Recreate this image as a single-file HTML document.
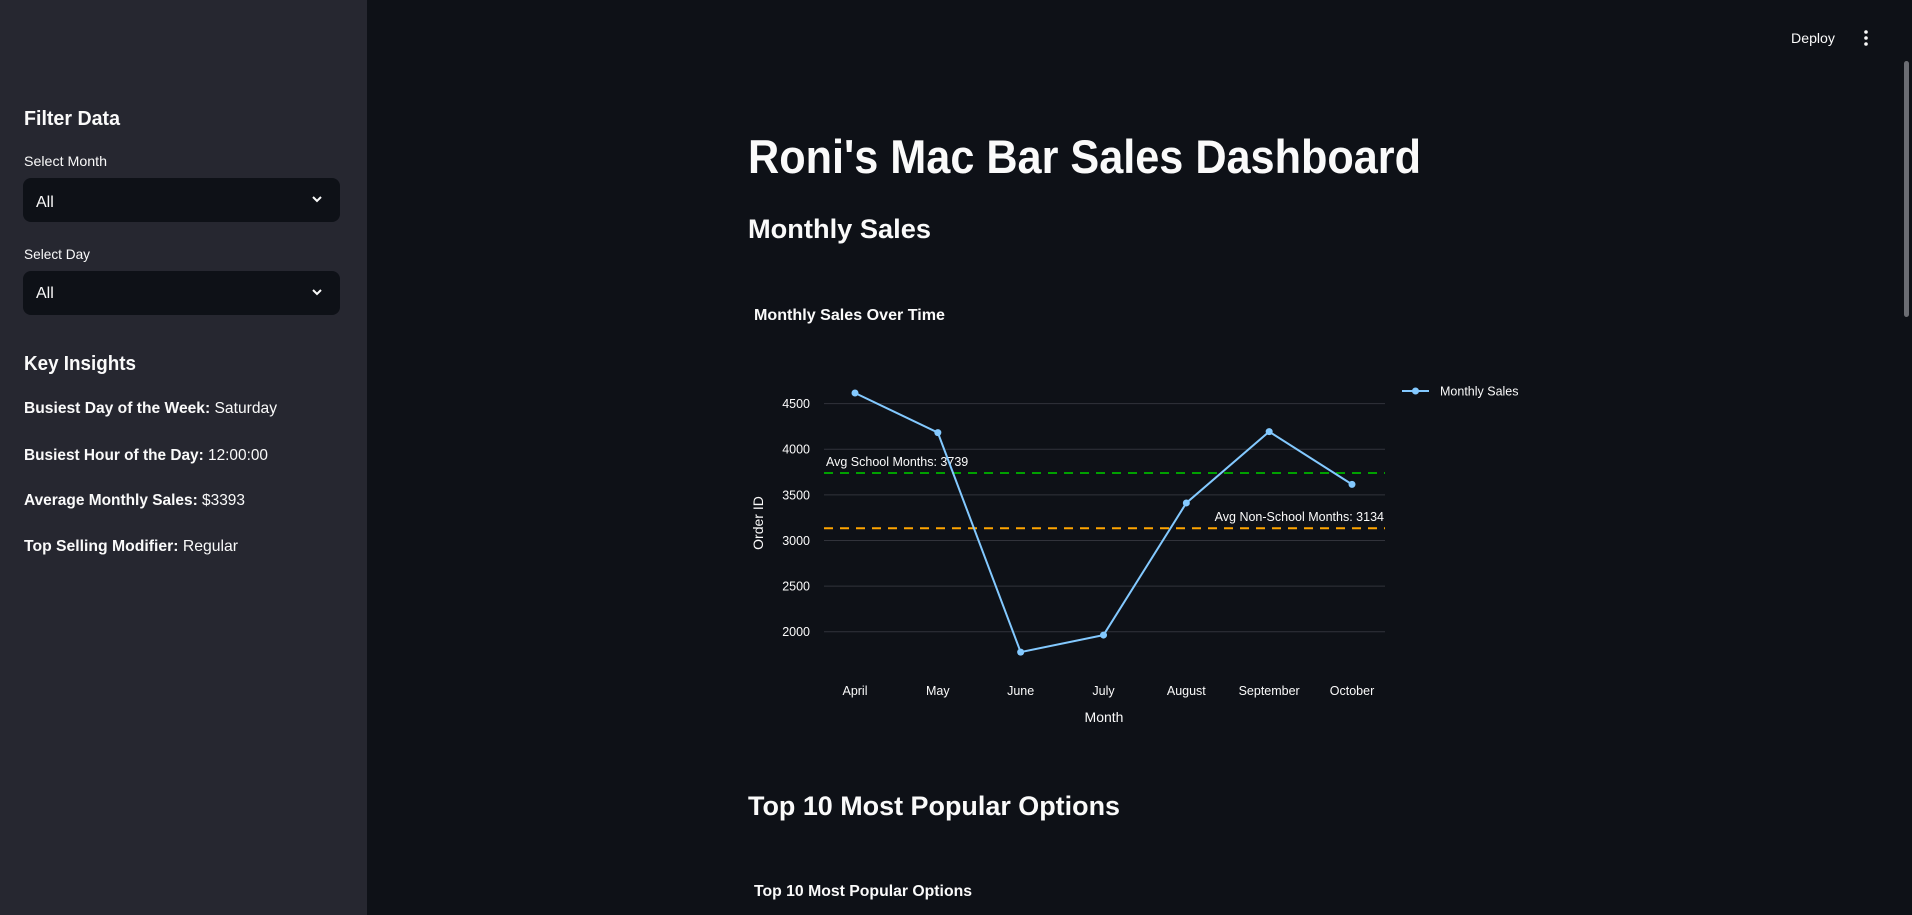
<!DOCTYPE html>
<html><head><meta charset="utf-8"><style>
html,body{margin:0;padding:0;background:#0e1117;width:1912px;height:915px;overflow:hidden;font-family:"Liberation Sans",sans-serif}
svg{display:block}
text{font-family:"Liberation Sans",sans-serif}
</style></head><body>
<svg width="1912" height="915" viewBox="0 0 1912 915">
<rect x="0" y="0" width="1912" height="915" fill="#0e1117"/>
<g>
<rect x="0" y="0" width="367" height="915" fill="#262730"/>
<text x="24" y="125" font-size="20" font-weight="bold" fill="#fafafa" textLength="96" lengthAdjust="spacingAndGlyphs">Filter Data</text>
<text x="24" y="166" font-size="14" fill="#fafafa" textLength="83" lengthAdjust="spacingAndGlyphs">Select Month</text>
<g>
<rect x="23" y="178" width="317" height="44" rx="8" fill="#0e1117"/>
<text x="36" y="207" font-size="16" fill="#fafafa">All</text>
<path d="M313 197 l4 4 l4 -4" stroke="#fafafa" stroke-width="2" fill="none"/>
</g>
<text x="24" y="259" font-size="14" fill="#fafafa" textLength="66" lengthAdjust="spacingAndGlyphs">Select Day</text>
<g>
<rect x="23" y="271" width="317" height="44" rx="8" fill="#0e1117"/>
<text x="36" y="298" font-size="16" fill="#fafafa">All</text>
<path d="M313 290 l4 4 l4 -4" stroke="#fafafa" stroke-width="2" fill="none"/>
</g>
<text x="24" y="370" font-size="20" font-weight="bold" fill="#fafafa" textLength="112" lengthAdjust="spacingAndGlyphs">Key Insights</text>
<text x="24" y="413" font-size="16" fill="#fafafa" textLength="253" lengthAdjust="spacingAndGlyphs"><tspan font-weight="bold">Busiest Day of the Week:</tspan> Saturday</text>
<text x="24" y="460" font-size="16" fill="#fafafa" textLength="244" lengthAdjust="spacingAndGlyphs"><tspan font-weight="bold">Busiest Hour of the Day:</tspan> 12:00:00</text>
<text x="24" y="505" font-size="16" fill="#fafafa" textLength="221" lengthAdjust="spacingAndGlyphs"><tspan font-weight="bold">Average Monthly Sales:</tspan> $3393</text>
<text x="24" y="551" font-size="16" fill="#fafafa" textLength="214" lengthAdjust="spacingAndGlyphs"><tspan font-weight="bold">Top Selling Modifier:</tspan> Regular</text>
</g>
<text x="1791" y="43" font-size="14" fill="#fafafa" textLength="44" lengthAdjust="spacingAndGlyphs">Deploy</text>
<g fill="#fafafa">
<circle cx="1866" cy="32" r="1.8"/><circle cx="1866" cy="38" r="1.8"/><circle cx="1866" cy="44" r="1.8"/>
</g>
<rect x="1904" y="61" width="5" height="256" rx="2.5" fill="#6b6d73"/>
<text x="748" y="173" font-size="47" font-weight="bold" fill="#fafafa" textLength="673" lengthAdjust="spacingAndGlyphs">Roni's Mac Bar Sales Dashboard</text>
<text x="748" y="238" font-size="27" font-weight="bold" fill="#fafafa" textLength="183" lengthAdjust="spacingAndGlyphs">Monthly Sales</text>
<text x="754" y="320" font-size="16" font-weight="bold" fill="#fafafa" textLength="191" lengthAdjust="spacingAndGlyphs">Monthly Sales Over Time</text>
<g id="chart"></g>
<text x="748" y="815" font-size="27" font-weight="bold" fill="#fafafa" textLength="372" lengthAdjust="spacingAndGlyphs">Top 10 Most Popular Options</text>
<text x="754" y="896" font-size="16" font-weight="bold" fill="#fafafa" textLength="218" lengthAdjust="spacingAndGlyphs">Top 10 Most Popular Options</text>
</svg>
<script>
const months = ["April","May","June","July","August","September","October"];
const sales = [4616,4182,1776,1963,3411,4193,3615];
const yTicks = [2000,2500,3000,3500,4000,4500];
const schoolAvg = 3739;
const nonSchoolAvg = 3134;
const NS="http://www.w3.org/2000/svg";
const g=document.getElementById('chart');
const X0=824,X1=1385;
function xs(i){return 855+i*(1352-855)/(months.length-1);}
function ys(v){return 403.6-(v-4500)*(228.1/2500);}
function mk(t,a,txt){const e=document.createElementNS(NS,t);for(const k in a)e.setAttribute(k,a[k]);if(txt!==undefined)e.textContent=txt;g.appendChild(e);return e;}
yTicks.forEach(v=>{
  const l=mk('line',{x1:X0,x2:X1,y1:ys(v),y2:ys(v),stroke:'#31333b','stroke-width':1});
  
  
  const t=mk('text',{x:810,y:ys(v)+4.5,'font-size':12.5,fill:'#fafafa','text-anchor':'end'},String(v));
  
  
});
months.forEach((m,i)=>{
  const t=mk('text',{x:xs(i),y:695,'font-size':12.5,fill:'#fafafa','text-anchor':'middle'},m);
  
  
});
const ga=mk('line',{x1:X0,x2:X1,y1:ys(schoolAvg),y2:ys(schoolAvg),stroke:'#00a000','stroke-width':2,'stroke-dasharray':'9 7'});


const gt=mk('text',{x:826,y:ys(schoolAvg)-7,'font-size':12.5,fill:'#fafafa'},'Avg School Months: '+schoolAvg);


const oa=mk('line',{x1:X0,x2:X1,y1:ys(nonSchoolAvg),y2:ys(nonSchoolAvg),stroke:'#ffa500','stroke-width':2,'stroke-dasharray':'9 7'});


const ot=mk('text',{x:1384,y:ys(nonSchoolAvg)-7,'font-size':12.5,fill:'#fafafa','text-anchor':'end'},'Avg Non-School Months: '+nonSchoolAvg);


const pl=mk('polyline',{points:sales.map((v,i)=>xs(i)+','+ys(v)).join(' '),fill:'none',stroke:'#83c9ff','stroke-width':2});


sales.forEach((v,i)=>{
  const c=mk('circle',{cx:xs(i),cy:ys(v),r:3.5,fill:'#83c9ff'});
  
  
});
const yt=mk('text',{x:0,y:0,'font-size':14,fill:'#fafafa','text-anchor':'middle',transform:'translate(763,523) rotate(-90)'},'Order ID');


const xt=mk('text',{x:1104,y:722,'font-size':14,fill:'#fafafa','text-anchor':'middle'},'Month');


const lg=mk('line',{x1:1402,x2:1429,y1:391,y2:391,stroke:'#83c9ff','stroke-width':2});


const lc=mk('circle',{cx:1415.5,cy:391,r:3.5,fill:'#83c9ff'});


const lt=mk('text',{x:1440,y:395.5,'font-size':12.5,fill:'#fafafa'},'Monthly Sales');


</script>
</body></html>
